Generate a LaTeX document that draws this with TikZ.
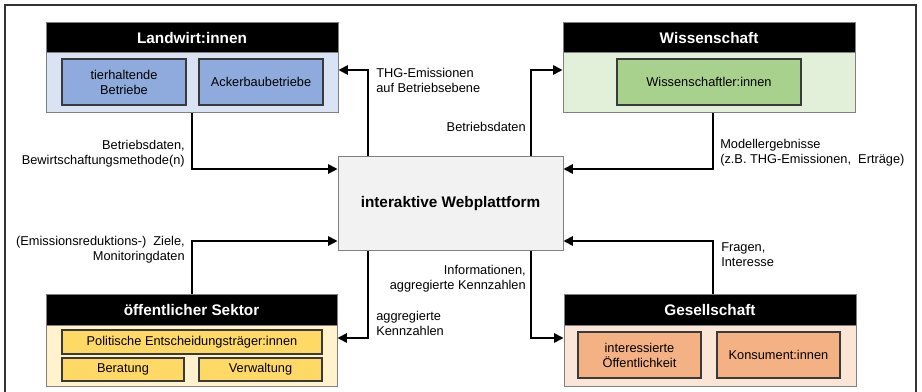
\documentclass[tikz,border=0pt]{standalone}
\usepackage{fontspec}
\setmainfont{Liberation Sans}
\usetikzlibrary{arrows.meta}
\definecolor{lwbody}{HTML}{DAE3F3}
\definecolor{lwin}{HTML}{8FAADC}
\definecolor{wibody}{HTML}{E2F0D9}
\definecolor{wiin}{HTML}{A9D18E}
\definecolor{oebody}{HTML}{FFF2CC}
\definecolor{oein}{HTML}{FFD966}
\definecolor{gebody}{HTML}{FBE5D6}
\definecolor{gein}{HTML}{F4B183}
\definecolor{webfill}{HTML}{F2F2F2}
\definecolor{grpline}{HTML}{808080}
\definecolor{inline}{HTML}{3A3A3A}
\begin{document}
\begin{tikzpicture}[x=0.75pt,y=-0.75pt,
  sz/.style 2 args={minimum width=#1*0.75pt,minimum height=#2*0.75pt},
  grp/.style={draw=grpline,line width=0.75pt,inner sep=0pt},
  hdr/.style={fill=black,draw=grpline,line width=0.75pt,inner sep=0pt,text=white,font=\fontsize{11.5pt}{13pt}\selectfont\bfseries},
  inbox/.style={draw=inline,line width=0.8pt,inner sep=0pt,align=center,font=\fontsize{9.6pt}{11.3pt}\selectfont},
  lbl/.style={inner sep=0pt,font=\fontsize{9.6pt}{11.3pt}\selectfont},
  arr/.style={line width=1.3pt,-{Triangle[length=7pt,width=7pt]}}]
\useasboundingbox (0,0) rectangle (922,392);
\clip (0,0) rectangle (922,392);
\draw[line width=1.3pt,draw=black!80] (5,5) rectangle (916,400);

% Landwirt:innen
\node[grp,fill=lwbody,sz={292}{90}] (lw) at (192,68) {};
\node[hdr,sz={292}{30}] (lwh) at (192,38) {Landwirt:innen};
\node[inbox,fill=lwin,sz={124}{46}] (lwa) at (124,82) {tierhaltende\\Betriebe};
\node[inbox,fill=lwin,sz={124}{46}] (lwb) at (261,82) {Ackerbaubetriebe};

% Wissenschaft
\node[grp,fill=wibody,sz={292}{90}] (wi) at (709,68) {};
\node[hdr,sz={292}{30}] (wih) at (709,38) {Wissenschaft};
\node[inbox,fill=wiin,sz={184}{46}] (wia) at (709,82) {Wissenschaftler:innen};

% Webplattform
\node[draw=grpline,line width=0.75pt,fill=webfill,inner sep=0pt,sz={225}{94},
  font=\fontsize{11.5pt}{13pt}\selectfont\bfseries] (web) at (450.5,204) {interaktive Webplattform};

% oeffentlicher Sektor
\node[grp,fill=oebody,sz={291}{91}] (oe) at (191.5,340.5) {};
\node[hdr,sz={291}{31}] (oeh) at (191.5,310.5) {öffentlicher Sektor};
\node[inbox,fill=oein,sz={260}{24}] (oea) at (192,342) {Politische Entscheidungsträger:innen};
\node[inbox,fill=oein,sz={122}{23}] (oeb) at (123,369.5) {Beratung};
\node[inbox,fill=oein,sz={123}{23}] (oec) at (260.5,369.5) {Verwaltung};

% Gesellschaft
\node[grp,fill=gebody,sz={292}{91}] (ge) at (710,340.5) {};
\node[hdr,sz={292}{31}] (geh) at (710,310.5) {Gesellschaft};
\node[inbox,fill=gein,sz={123}{46}] (gea) at (639.5,355) {interessierte\\Öffentlichkeit};
\node[inbox,fill=gein,sz={123}{46}] (geb) at (778.5,355) {Konsument:innen};

% connectors
\draw[arr] (lw.south -| 192,0) |- (web.west |- 0,169);
\draw[arr] (web.north -| 368,0) |- (lw.east |- 0,70);
\draw[arr] (web.north -| 531,0) |- (wi.west |- 0,70);
\draw[arr] (wi.south -| 713,0) |- (web.east |- 0,169);
\draw[arr] (oe.north -| 192,0) |- (web.west |- 0,241);
\draw[arr] (web.south -| 368,0) |- (oe.east |- 0,338);
\draw[arr] (web.south -| 531,0) |- (ge.west |- 0,338);
\draw[arr] (ge.north -| 713,0) |- (web.east |- 0,241);

% labels
\node[lbl,align=left,anchor=west] (l1) at (376,80) {THG-Emissionen\\auf Betriebsebene};
\node[lbl,align=right,anchor=east] (l2) at (526,127) {Betriebsdaten};
\node[lbl,align=right,anchor=east] (l3) at (185,154) {Betriebsdaten,\\Bewirtschaftungsmethode(n)};
\node[lbl,align=left,anchor=west] (l4) at (720,153) {Modellergebnisse\\(z.B. THG-Emissionen,\ \ Erträge)};
\node[lbl,align=right,anchor=east] (l5) at (185,250) {(Emissionsreduktions-)\ \ Ziele,\\Monitoringdaten};
\node[lbl,align=right,anchor=east] (l6) at (526,279) {Informationen,\\aggregierte Kennzahlen};
\node[lbl,align=left,anchor=west] (l7) at (376,323) {aggregierte\\Kennzahlen};
\node[lbl,align=left,anchor=west] (l8) at (721,255) {Fragen,\\Interesse};
\end{tikzpicture}
\end{document}
